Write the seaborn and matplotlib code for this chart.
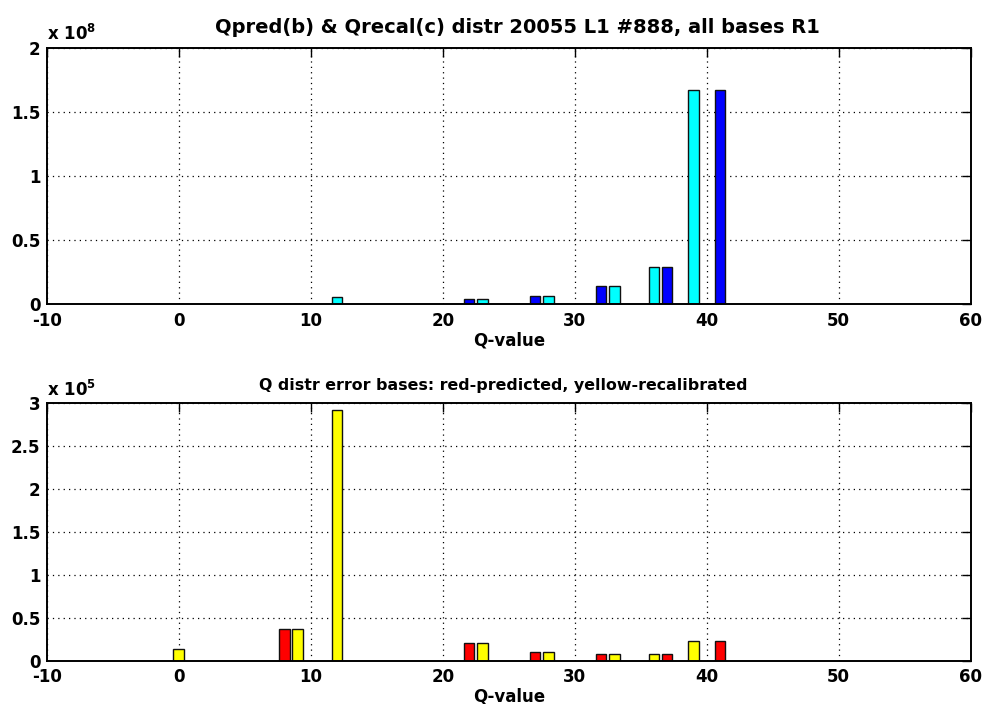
import matplotlib
matplotlib.use("Agg")
import matplotlib.pyplot as plt
import seaborn as sns
import pandas as pd
from matplotlib.ticker import FuncFormatter

# ---- data ----
q_pred = [8, 22, 27, 32, 37, 41]
q_recal = [0, 9, 12, 23, 28, 33, 36, 39]
count_pred = [2.3e5, 3.9e6, 6.2e6, 1.38e7, 2.86e7, 1.67e8]
count_recal = [1.4e4, 2.3e5, 5.2e6, 3.9e6, 6.2e6, 1.38e7, 2.86e7, 1.67e8]
err_pred = [3.73e4, 2.03e4, 9.8e3, 7.8e3, 7.4e3, 2.26e4]
err_recal = [1.36e4, 3.73e4, 2.926e5, 2.03e4, 9.8e3, 7.8e3, 7.4e3, 2.26e4]

title_top = "Qpred(b) & Qrecal(c) distr 20055 L1 #888, all bases R1"
title_bot = "Q distr error bases: red-predicted, yellow-recalibrated"
xlabel = "Q-value"
xticks = [-10, 0, 10, 20, 30, 40, 50, 60]
yticks_top = [0, 0.5e8, 1e8, 1.5e8, 2e8]
yticks_bot = [0, 0.5e5, 1e5, 1.5e5, 2e5, 2.5e5, 3e5]

df_top = pd.DataFrame({
    "Q": q_pred + q_recal,
    "count": count_pred + count_recal,
    "series": ["pred"] * len(q_pred) + ["recal"] * len(q_recal),
})
df_bot = pd.DataFrame({
    "Q": q_pred + q_recal,
    "count": err_pred + err_recal,
    "series": ["pred"] * len(q_pred) + ["recal"] * len(q_recal),
})

sns.set_style("white")
plt.rcParams["font.family"] = ["DejaVu Sans"]
plt.rcParams["font.weight"] = "bold"
plt.rcParams["axes.titleweight"] = "bold"
plt.rcParams["axes.labelweight"] = "bold"
plt.rcParams["text.color"] = "black"
plt.rcParams["axes.labelcolor"] = "black"
plt.rcParams["xtick.color"] = "black"
plt.rcParams["ytick.color"] = "black"
plt.rcParams["mathtext.fontset"] = "custom"
plt.rcParams["mathtext.bf"] = "DejaVu Sans:bold"
plt.rcParams["mathtext.rm"] = "DejaVu Sans:bold"

fig = plt.figure(figsize=(9.83, 7.04), dpi=100)
W, H = 983, 704
ax1 = fig.add_axes([46.7 / W, 1 - 304 / H, (970.7 - 46.7) / W, (304 - 47.7) / H])
ax2 = fig.add_axes([46.7 / W, 1 - 660.7 / H, (970.7 - 46.7) / W, (660.7 - 403.3) / H])


def style_axes(ax, yticks, scale, exp, title, title_x, title_pad, title_size):
    ax.set_xlim(-10, 60)
    ax.set_ylim(yticks[0], yticks[-1])
    ax.set_xticks(xticks)
    ax.set_yticks(yticks)
    ax.yaxis.set_major_formatter(FuncFormatter(lambda v, p: f"{v / scale:g}"))
    ax.xaxis.set_major_formatter(FuncFormatter(lambda v, p: f"{v:g}"))
    ax.grid(True, color="black", linestyle=(0, (1, 3.3)), linewidth=0.9)
    ax.set_axisbelow(True)
    for s in ax.spines.values():
        s.set_visible(True)
        s.set_color("black")
        s.set_linewidth(1.4)
    ax.tick_params(direction="in", length=6.5, width=1, top=True, right=True,
                   labelsize=12, colors="black", pad=5.5)
    ax.tick_params(axis="y", pad=4.5)
    ax.set_xlabel(xlabel, fontsize=12, fontweight="bold", labelpad=1)
    ax.set_ylabel("")
    ax.set_title(title, fontsize=title_size, fontweight="bold",
                 x=title_x, pad=title_pad)
    ax.text(0.0, 1.0 + 7.7 / 256.5, r"x 10$^{\mathbf{%d}}$" % exp,
            transform=ax.transAxes, fontsize=12, fontweight="bold",
            ha="left", va="baseline")


sns.barplot(data=df_top, x="Q", y="count", hue="series", native_scale=True,
            dodge=False, width=0.8, saturation=1,
            palette={"pred": "#0000ff", "recal": "#00ffff"},
            edgecolor="#111111", linewidth=1, errorbar=None, legend=False, ax=ax1)
sns.barplot(data=df_bot, x="Q", y="count", hue="series", native_scale=True,
            dodge=False, width=0.8, saturation=1,
            palette={"pred": "#ff0000", "recal": "#ffff00"},
            edgecolor="#111111", linewidth=1, errorbar=None, legend=False, ax=ax2)

style_axes(ax1, yticks_top, 1e8, 8, title_top, 0.5095, 10.5, 14)
style_axes(ax2, yticks_bot, 1e5, 5, title_bot, 0.4936, 9.5, 11.4)

fig.savefig("out.png", dpi=100, facecolor="white")
